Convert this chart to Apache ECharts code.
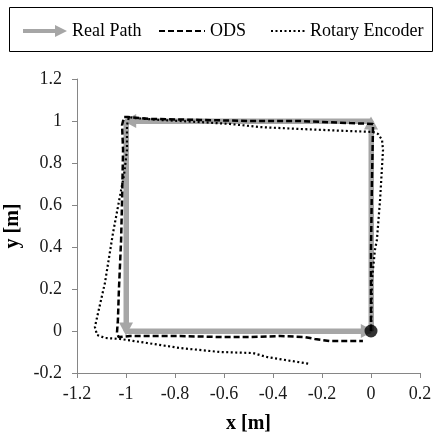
<!DOCTYPE html>
<html>
<head>
<meta charset="utf-8">
<script src="https://cdn.jsdelivr.net/npm/echarts@6/dist/echarts.min.js"></script>
<style>
  html, body { margin: 0; padding: 0; background: #fff; }
  #chart { width: 435px; height: 440px; }
</style>
</head>
<body>
<div id="chart"></div>
<script>
// Real path: the square that was driven, corners in order of travel
var pathX = [0, 0, -1, -1, 0];
var pathY = [0, 1, 1, 0, 0];
// each arrow head stops just short of the next corner
var arrowTipX = [0, -0.985, -1, -0.015];
var arrowTipY = [0.99, 1, 0.01, 0];

// ODS (dashed)
var odsX = [0, 0, 0.004, 0.008, 0.008, -0.086, -0.29, -0.494, -0.698, -0.902, -0.992, -1.008,
  -1.016, -1.012, -1.016, -1.02, -1.029, -1.033, -1.037, -1.03,
  -0.984, -0.78, -0.604, -0.494, -0.371, -0.269, -0.229, -0.167, -0.033];
var odsY = [0, 0.386, 0.719, 0.957, 0.986, 0.99, 1.0, 1.0, 1.005, 1.01, 1.019, 1.019,
  0.981, 0.862, 0.624, 0.433, 0.195, 0.052, -0.01, -0.029,
  -0.024, -0.024, -0.029, -0.029, -0.024, -0.029, -0.038, -0.048, -0.048];

// Rotary encoder (dotted)
var encX = [0, 0.004, 0.016, 0.024, 0.037, 0.049, 0.045, 0.029, 0.008, -0.086, -0.29, -0.453,
  -0.576, -0.698, -0.861, -0.963, -0.988, -0.996, -0.996, -1.008, -1.02, -1.053, -1.086,
  -1.114, -1.127, -1.118, -1.086, -1.024, -0.914, -0.78, -0.616, -0.482, -0.424, -0.249];
var encY = [0, 0.243, 0.386, 0.433, 0.624, 0.862, 0.91, 0.938, 0.948, 0.952, 0.962, 0.971,
  0.986, 0.995, 1.005, 1.014, 1.019, 0.981, 0.862, 0.743, 0.671, 0.467, 0.229,
  0.086, 0.019, -0.019, -0.033, -0.038, -0.057, -0.081, -0.1, -0.105, -0.124, -0.157];

// Start point
var startX = [0];
var startY = [0];

// Axis ranges
var xRange = [-1.2, 0.2];
var yRange = [-0.2, 1.2];
var tickStep = 0.2;

function pairs(xs, ys) {
  return xs.map(function (x, i) { return [x, ys[i]]; });
}

var arrowLines = arrowTipX.map(function (x, i) {
  return [{ coord: [pathX[i], pathY[i]] }, { coord: [x, arrowTipY[i]] }];
});

var serif = '"Liberation Serif", "DejaVu Serif", serif';
var grey = '#a6a6a6';

var myChart = echarts.init(document.getElementById('chart'));

var legendText = { fontFamily: serif, fontSize: 18, color: '#000' };

var option = {
  animation: false,
  backgroundColor: '#fff',
  graphic: [{
    type: 'rect',
    left: 7, top: 5,
    shape: { width: 423, height: 44 },
    style: { fill: 'none', stroke: '#000', lineWidth: 1 }
  }],
  legend: [{
    left: 23, top: 22, padding: 0,
    itemWidth: 44, itemHeight: 12, itemGap: 5,
    textStyle: legendText,
    data: [{ name: 'Real Path', icon: 'path://M0,4 L32,4 L32,0 L44,6 L32,12 L32,8 L0,8 Z' }],
    itemStyle: { borderWidth: 0 }
  }, {
    left: 158, top: 22, padding: 0,
    itemWidth: 46, itemHeight: 12,
    textStyle: legendText,
    itemStyle: { opacity: 0 },
    data: ['ODS']
  }, {
    left: 270, top: 22, padding: 0,
    itemWidth: 34, itemHeight: 12,
    textStyle: legendText,
    itemStyle: { opacity: 0 },
    data: ['Rotary Encoder']
  }],
  grid: { left: 77, right: 15, top: 79, bottom: 67, containLabel: false, outerBoundsMode: 'none' },
  xAxis: {
    type: 'value',
    min: xRange[0], max: xRange[1], interval: tickStep,
    name: 'x [m]', nameLocation: 'middle', nameGap: 41,
    nameTextStyle: { fontFamily: serif, fontSize: 20, fontWeight: 'bold', color: '#000' },
    axisLine: { onZero: false, lineStyle: { color: '#868686', width: 1 } },
    axisTick: { show: true, length: 5, lineStyle: { color: '#868686' } },
    axisLabel: { fontFamily: serif, fontSize: 18, color: '#1a1a1a', margin: 12 },
    splitLine: { show: false }
  },
  yAxis: {
    type: 'value',
    min: yRange[0], max: yRange[1], interval: tickStep,
    name: 'y [m]', nameLocation: 'middle', nameGap: 52, nameRotate: 90,
    nameTextStyle: { fontFamily: serif, fontSize: 20, fontWeight: 'bold', color: '#000' },
    axisLine: { show: true, onZero: false, lineStyle: { color: '#868686', width: 1 } },
    axisTick: { show: true, length: 5, lineStyle: { color: '#868686' } },
    axisLabel: { fontFamily: serif, fontSize: 18, color: '#1a1a1a', margin: 15 },
    splitLine: { show: false }
  },
  series: [{
    name: 'Real Path',
    type: 'line',
    data: pairs(pathX, pathY),
    symbol: 'none',
    color: grey,
    lineStyle: { color: grey, width: 5 },
    z: 1,
    markLine: {
      silent: true,
      z: 1,
      symbol: ['none', 'triangle'],
      symbolSize: [14, 13],
      label: { show: false },
      lineStyle: { color: grey, width: 5, type: 'solid' },
      emphasis: { disabled: true },
      data: arrowLines
    }
  }, {
    name: 'Rotary Encoder',
    type: 'line',
    data: pairs(encX, encY),
    symbol: 'none',
    color: '#000',
    lineStyle: { color: '#000', width: 2.2, type: [2, 2.5] },
    z: 2
  }, {
    name: 'ODS',
    type: 'line',
    data: pairs(odsX, odsY),
    symbol: 'none',
    color: '#000',
    lineStyle: { color: '#000', width: 2.5, type: [6, 3] },
    z: 3
  }, {
    name: 'start',
    type: 'scatter',
    data: pairs(startX, startY),
    symbol: 'circle',
    symbolSize: 13,
    itemStyle: { color: '#000' },
    z: 10
  }]
};

myChart.setOption(option);
</script>
</body>
</html>
